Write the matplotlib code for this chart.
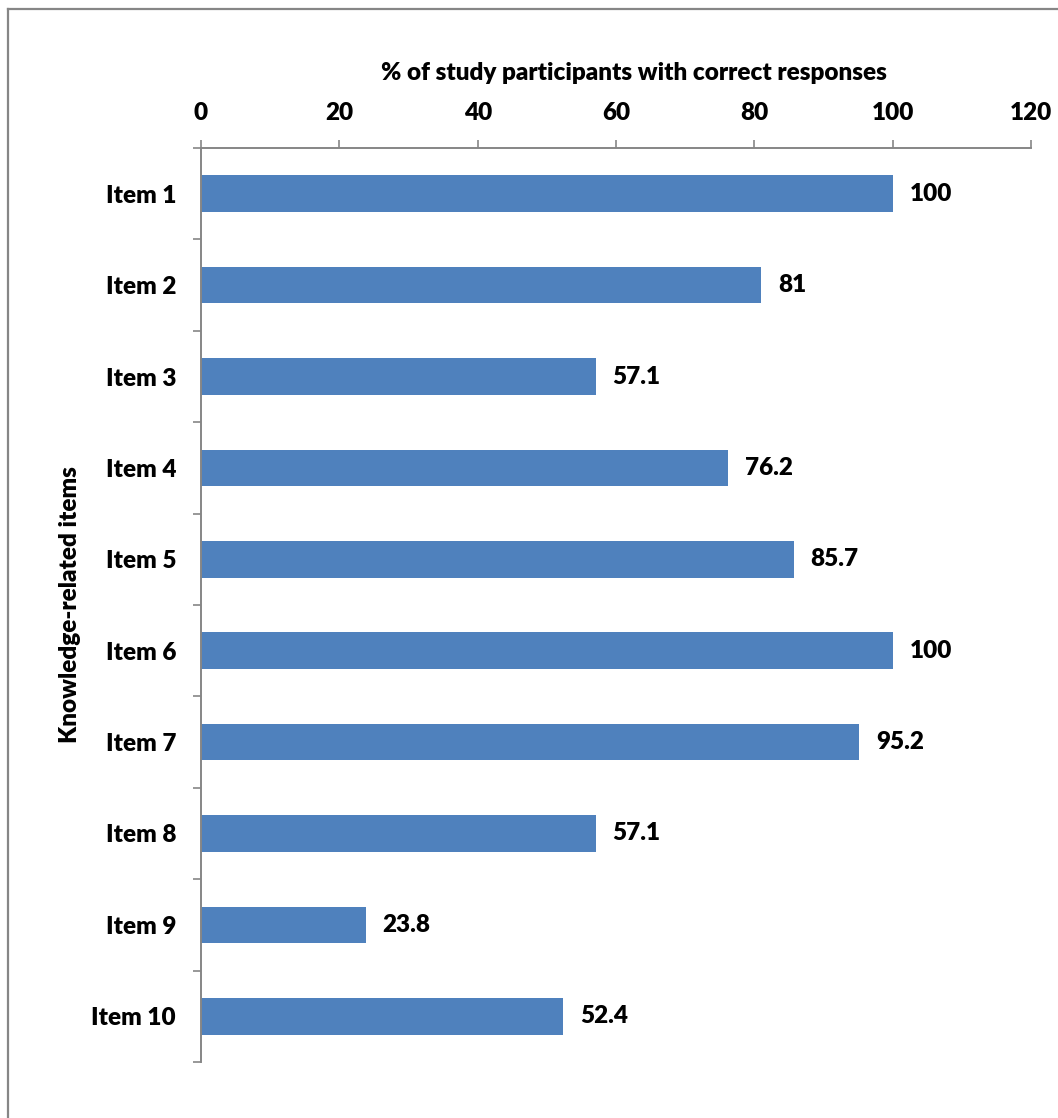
import matplotlib
matplotlib.use("Agg")
import matplotlib.pyplot as plt
from matplotlib.lines import Line2D

plt.rcParams['font.family'] = ['Lato', 'DejaVu Sans']
plt.rcParams['font.weight'] = 'heavy'

items = ["Item 1", "Item 2", "Item 3", "Item 4", "Item 5",
         "Item 6", "Item 7", "Item 8", "Item 9", "Item 10"]
percent_correct = [100, 81, 57.1, 76.2, 85.7, 100, 95.2, 57.1, 23.8, 52.4]
value_labels = ["100", "81", "57.1", "76.2", "85.7", "100", "95.2", "57.1", "23.8", "52.4"]
x_ticks = [0, 20, 40, 60, 80, 100, 120]

W, H = 1058, 1118
FS = 17.5
WT = "heavy"
fig = plt.figure(figsize=(W / 100, H / 100), dpi=100)
ax = fig.add_axes([201 / W, 1 - 1062 / H, 830 / W, 914 / H])

axis_grey = "#868686"
bar_blue = "#4F81BD"

pos = list(range(len(items)))
ax.barh(pos, percent_correct, height=0.4, color=bar_blue)
ax.set_ylim(len(items) - 0.5, -0.5)
ax.set_xlim(0, 120)

# value labels to the right of each bar
for p, v, txt in zip(pos, percent_correct, value_labels):
    ax.annotate(txt, xy=(v, p), xytext=(12, 0), textcoords="offset points",
                ha="left", va="center", fontsize=FS, fontweight=WT)

# x axis on top
ax.xaxis.set_ticks_position("top")
ax.xaxis.set_label_position("top")
ax.set_xticks(x_ticks)
ax.set_xticklabels([str(t) for t in x_ticks], fontsize=FS, fontweight=WT)
ax.tick_params(axis="x", direction="out", length=6, width=1.2, color=axis_grey, pad=11)
ax.set_xlabel("% of study participants with correct responses",
              fontsize=FS, fontweight=WT)
ax.xaxis.set_label_coords((634 - 201) / 830, (1062 - 80) / 914)

# y axis: labels at centres, tick marks at category boundaries
ax.set_yticks(pos)
ax.set_yticklabels(items, fontsize=FS, fontweight=WT)
ax.tick_params(axis="y", which="major", length=0, pad=18)
ax.set_yticks([i - 0.5 for i in range(len(items) + 1)], minor=True)
ax.tick_params(axis="y", which="minor", direction="out", length=6, width=1.2, color=axis_grey)
ax.set_ylabel("Knowledge-related items", fontsize=FS, fontweight=WT)
ax.yaxis.set_label_coords((81 - 201) / 830, 0.5)

for side in ("bottom", "right"):
    ax.spines[side].set_visible(False)
for side in ("top", "left"):
    ax.spines[side].set_color(axis_grey)
    ax.spines[side].set_linewidth(1.4)

# chart frame (top and left edges)
fig.add_artist(Line2D([8 / W, 1.0], [1 - 9 / H, 1 - 9 / H], transform=fig.transFigure,
                      color=axis_grey, linewidth=1.6))
fig.add_artist(Line2D([8 / W, 8 / W], [1 - 9 / H, 0.0], transform=fig.transFigure,
                      color=axis_grey, linewidth=1.6))

fig.savefig("out.png", dpi=100, facecolor="white")
